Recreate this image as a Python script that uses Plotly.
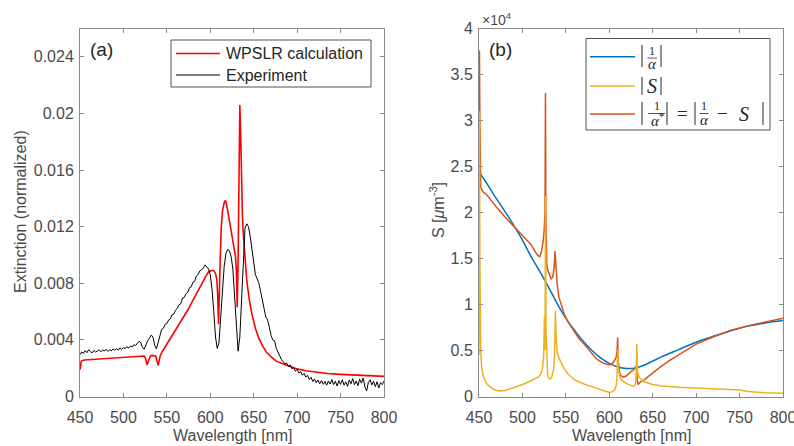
import plotly.graph_objects as go

W, H = 794, 446

# ---------------- Panel (a) data ----------------
calc_wl = [450, 450.5, 451.5, 455, 470, 490, 510, 520, 524, 525.5, 526.5, 527.2, 528.2, 529.5, 531, 533, 535,
           537, 538, 539, 540, 541, 542.5, 545, 550, 555, 560, 565, 570, 575, 580, 585, 590, 595, 598, 601,
           604, 606, 607.5, 608.5, 609.5, 610.5, 611.5, 612.5, 614, 616, 617.5, 619, 621, 623, 625, 627, 629,
           630, 631, 632, 633, 634, 635, 636, 637, 638, 640, 642, 645, 648, 652, 656, 660, 665, 670, 676, 684,
           692, 700, 710, 720, 735, 750, 765, 780, 800]
calc_ext = [0.0019, 0.0021, 0.0025, 0.00258, 0.00265, 0.00272, 0.0028, 0.00288, 0.00286, 0.0027, 0.0024,
            0.00222, 0.0024, 0.0027, 0.00285, 0.0029, 0.0029, 0.00286, 0.0027, 0.0024, 0.0022, 0.0025, 0.0029,
            0.0032, 0.0037, 0.0042, 0.0047, 0.0052, 0.0057, 0.0062, 0.0068, 0.0074, 0.0080, 0.0085, 0.0088,
            0.0089, 0.0089, 0.0087, 0.0083, 0.0072, 0.0051, 0.0068, 0.0098, 0.0118, 0.0131, 0.0137, 0.01385,
            0.0135, 0.0128, 0.0120, 0.0112, 0.0106, 0.0099, 0.0090, 0.0063, 0.0095, 0.0175, 0.0206, 0.0185,
            0.0150, 0.0128, 0.0115, 0.0098, 0.0082, 0.0068, 0.0058, 0.0048, 0.0041, 0.0036, 0.0031, 0.0028,
            0.0025, 0.0023, 0.0021, 0.00195, 0.00182, 0.00172, 0.00162, 0.00156, 0.00152, 0.00148, 0.00142]

exp_wl = list(range(450, 801, 2))
exp_ext = [
    0.00295, 0.00315, 0.00305, 0.00325, 0.00310, 0.00330, 0.00318, 0.00308, 0.00326, 0.00314,  # 450-468
    0.00322, 0.00330, 0.00316, 0.00328, 0.00320, 0.00334, 0.00318, 0.00330, 0.00322, 0.00336,  # 470-488
    0.00326, 0.00338, 0.00328, 0.00344, 0.00332, 0.00346, 0.00338, 0.00352, 0.00342, 0.00356,  # 490-508
    0.00350, 0.00366, 0.00360, 0.00378, 0.00390, 0.00380, 0.00345, 0.00335, 0.00372, 0.00395,  # 510-528
    0.00412, 0.00434, 0.00420, 0.00362, 0.00336, 0.00384, 0.00422, 0.00474, 0.00482, 0.00510,  # 530-548
    0.00515, 0.00540, 0.00548, 0.00578, 0.00582, 0.00610, 0.00622, 0.00648, 0.00655, 0.00696,  # 550-568
    0.00700, 0.00726, 0.00736, 0.00768, 0.00774, 0.00808, 0.00814, 0.00852, 0.00862, 0.00888,  # 570-588
    0.00895, 0.00908, 0.00930, 0.00915, 0.00900, 0.00860, 0.00760, 0.00600, 0.00420, 0.00340,  # 590-608
    0.00380, 0.00560, 0.00780, 0.00920, 0.01010, 0.01040, 0.01030, 0.00990, 0.00900, 0.00700,  # 610-628
    0.00440, 0.00320, 0.00420, 0.00700, 0.01000, 0.01190, 0.01220, 0.01200, 0.01130, 0.01040,  # 630-648
    0.00950, 0.00860, 0.00830, 0.00800, 0.00740, 0.00690, 0.00620, 0.00560, 0.00540, 0.00490,  # 650-668
    0.00430, 0.00400, 0.00395, 0.00340, 0.00310, 0.00290, 0.00260, 0.00245, 0.00230, 0.00236,  # 670-688
    0.00212, 0.00222, 0.00196, 0.00204, 0.00178, 0.00192, 0.00166, 0.00176, 0.00150, 0.00164,  # 690-708
    0.00138, 0.00150, 0.00120, 0.00136, 0.00106, 0.00124, 0.00098, 0.00116, 0.00090, 0.00112,  # 710-728
    0.00086, 0.00106, 0.00080, 0.00110, 0.00088, 0.00120, 0.00084, 0.00108, 0.00074, 0.00112,  # 730-748
    0.00086, 0.00118, 0.00080, 0.00104, 0.00072, 0.00116, 0.00090, 0.00126, 0.00084, 0.00110,  # 750-768
    0.00076, 0.00122, 0.00094, 0.00130, 0.00070, 0.00040, 0.00100, 0.00118, 0.00082, 0.00108,  # 770-788
    0.00070, 0.00104, 0.00060, 0.00098, 0.00084, 0.00110,                                      # 790-800
]

# ---------------- Panel (b) data (units of 1e4 um^-3) ----------------
inv_alpha_wl = [450, 460, 470, 480, 490, 500, 510, 520, 530, 540, 550, 560, 570, 580, 590, 600, 610, 620,
                630, 640, 650, 660, 680, 700, 720, 740, 760, 780, 800]
inv_alpha = [2.44, 2.30, 2.15, 2.01, 1.86, 1.70, 1.52, 1.36, 1.19, 1.01, 0.85, 0.72, 0.60, 0.50, 0.42, 0.36,
             0.32, 0.305, 0.31, 0.34, 0.385, 0.43, 0.51, 0.59, 0.655, 0.715, 0.765, 0.80, 0.825]

s_wl = [450, 450.5, 451, 452, 453, 455, 458, 462, 466, 470, 475, 480, 485, 490, 495, 500, 505, 510, 515,
        518, 521, 523, 524.5, 525.3, 526, 526.6, 527.2, 528, 529, 530, 532, 534, 536, 537, 538, 539, 540,
        542, 545, 548, 552, 556, 560, 565, 570, 575, 580, 585, 590, 595, 600, 603, 606, 608, 609, 609.7,
        610.5, 612, 615, 620, 625, 628, 630, 631, 631.7, 632.5, 634, 637, 640, 650, 660, 680, 700, 720,
        740, 750, 760, 780, 800]
s_abs = [0.45, 3.10, 1.5, 0.5, 0.32, 0.22, 0.15, 0.11, 0.08, 0.065, 0.06, 0.065, 0.08, 0.095, 0.11, 0.13,
         0.15, 0.17, 0.19, 0.21, 0.24, 0.30, 0.45, 0.87, 0.5, 2.18, 0.7, 0.35, 0.24, 0.20, 0.19, 0.22, 0.30,
         0.45, 0.93, 0.60, 0.48, 0.42, 0.36, 0.30, 0.25, 0.21, 0.18, 0.16, 0.14, 0.12, 0.11, 0.09, 0.075,
         0.06, 0.045, 0.05, 0.07, 0.12, 0.22, 0.51, 0.30, 0.22, 0.17, 0.14, 0.12, 0.11, 0.13, 0.25, 0.57,
         0.28, 0.21, 0.18, 0.16, 0.13, 0.115, 0.10, 0.09, 0.085, 0.075, 0.07, 0.055, 0.04, 0.035]

star_wl = [450, 450.5, 451, 452, 453, 455, 458, 462, 466, 470, 475, 480, 485, 490, 495, 500, 505, 510, 515,
           518, 520, 522, 524, 525, 526, 526.5, 527, 528, 529, 531, 533, 535, 536.5, 537.5, 538.5, 540, 542,
           545, 548, 552, 556, 560, 565, 570, 575, 580, 585, 590, 595, 600, 603, 606, 608, 609, 609.6, 610.3,
           611.5, 613, 616, 619, 622, 625, 628, 630, 631, 632, 633, 634, 636, 640, 645, 650, 660, 670, 680,
           690, 700, 720, 740, 760, 780, 800]
inv_alpha_star = [2.92, 3.76, 3.0, 2.28, 2.25, 2.22, 2.20, 2.16, 2.11, 2.06, 2.0, 1.95, 1.90, 1.85, 1.80,
                  1.76, 1.71, 1.65, 1.57, 1.53, 1.52, 1.58, 1.70, 1.80, 2.0, 3.30, 2.0, 1.45, 1.38, 1.33, 1.28,
                  1.30, 1.40, 1.58, 1.45, 1.22, 1.08, 0.98, 0.90, 0.82, 0.76, 0.70, 0.63, 0.58, 0.52, 0.46,
                  0.41, 0.38, 0.355, 0.345, 0.35, 0.39, 0.43, 0.50, 0.64, 0.40, 0.28, 0.23, 0.21, 0.22, 0.25,
                  0.27, 0.29, 0.31, 0.33, 0.20, 0.13, 0.14, 0.16, 0.18, 0.22, 0.255, 0.33, 0.395, 0.455,
                  0.515, 0.57, 0.65, 0.72, 0.77, 0.81, 0.85]

x_ticks = [450, 500, 550, 600, 650, 700, 750, 800]
ya_ticks = [0, 0.004, 0.008, 0.012, 0.016, 0.02, 0.024]
ya_labels = ["0", "0.004", "0.008", "0.012", "0.016", "0.02", "0.024"]
yb_ticks = [0, 0.5, 1, 1.5, 2, 2.5, 3, 3.5, 4]
yb_labels = ["0", "0.5", "1", "1.5", "2", "2.5", "3", "3.5", "4"]

# ---------------- styling ----------------
SANS = "Liberation Sans, Arial, sans-serif"
SERIF = "Liberation Serif, Times New Roman, serif"
TXT = "#4a4a4a"
AXC = "#8a8a8a"
DARK = "#262626"
BLUE, YELLOW, ORANGE = "#0072BD", "#EDB120", "#D95319"


def px(x):
    return x / W


def py(y):
    return 1 - y / H


fig = go.Figure()
fig.add_trace(go.Scatter(x=calc_wl, y=calc_ext, mode="lines", line=dict(color="#ff0000", width=1.6),
                         xaxis="x", yaxis="y", showlegend=False))
fig.add_trace(go.Scatter(x=exp_wl, y=exp_ext, mode="lines", line=dict(color="#000000", width=1),
                         xaxis="x", yaxis="y", showlegend=False))
fig.add_trace(go.Scatter(x=inv_alpha_wl, y=inv_alpha, mode="lines", line=dict(color=BLUE, width=1.5, shape="spline"),
                         xaxis="x2", yaxis="y2", showlegend=False))
fig.add_trace(go.Scatter(x=star_wl, y=inv_alpha_star, mode="lines", line=dict(color=ORANGE, width=1.5),
                         xaxis="x2", yaxis="y2", showlegend=False))
fig.add_trace(go.Scatter(x=s_wl, y=s_abs, mode="lines", line=dict(color=YELLOW, width=1.5),
                         xaxis="x2", yaxis="y2", showlegend=False))

ydom = [(H - 396.5) / H, (H - 28.5) / H]
axis_common = dict(showline=True, linecolor=AXC, linewidth=1, mirror="ticks", ticks="inside", ticklen=4,
                   tickcolor=AXC, showgrid=False, zeroline=False, automargin=False,
                   ticklabeloverflow="allow", tickfont=dict(family=SANS, size=16, color=TXT))

annotations = []
shapes = []


def txt(x, y, s, size=16, family=SANS, xanchor="center", color=DARK, angle=0):
    annotations.append(dict(x=px(x), y=py(y), xref="paper", yref="paper", text=s, showarrow=False,
                            xanchor=xanchor, yanchor="middle", textangle=angle,
                            font=dict(family=family, size=size, color=color)))


def seg(x0, y0, x1, y1, color=DARK, width=1):
    shapes.append(dict(type="line", xref="paper", yref="paper", x0=px(x0), y0=py(y0), x1=px(x1), y1=py(y1),
                       line=dict(color=color, width=width)))


def box(x0, y0, x1, y1):
    shapes.append(dict(type="rect", xref="paper", yref="paper", x0=px(x0), y0=py(y0), x1=px(x1), y1=py(y1),
                       fillcolor="white", line=dict(color=DARK, width=0.8)))


# axis titles
txt(232, 435, "Wavelength [nm]", color=TXT)
txt(631, 435, "Wavelength [nm]", color=TXT)
txt(20, 212, "Extinction (normalized)", color=TXT, angle=-90)
txt(437, 210, "S [<i>μ</i>m<sup>-3</sup>]", color=TXT, angle=-90)
txt(480, 19, "×10<sup>4</sup>", size=14, color=TXT, xanchor="left")

# panel labels
txt(88, 50, "(a)", size=19, xanchor="left")
txt(487, 50, "(b)", size=19, xanchor="left")

# legend (a)
box(171, 40, 371, 87)
seg(176, 53.5, 220, 53.5, color="#ff0000", width=1.6)
seg(176, 75, 220, 75, color="#000000", width=1)
txt(223.5, 53.5, "WPSLR calculation", xanchor="left")
txt(223.5, 75, "Experiment", xanchor="left")

# legend (b)
box(586, 38.5, 770, 130)
seg(590, 56.7, 635, 56.7, color=BLUE, width=1.5)
seg(590, 86, 635, 86, color=YELLOW, width=1.5)
seg(590, 114, 635, 114, color=ORANGE, width=1.5)
# row 1: |1/alpha|
seg(642, 45, 642, 67)
seg(661, 45, 661, 67)
txt(652, 51, "1", size=12, family=SERIF)
seg(647.5, 58, 657, 58, width=0.8)
txt(652, 63.5, "<i>α</i>", size=15, family=SERIF)
# row 2: |S|
seg(642, 77, 642, 95)
seg(661, 77, 661, 95)
txt(651.5, 86, "<i>S</i>", size=20, family=SERIF)
# row 3: |1/alpha*| = |1/alpha - S|
for xb in (642, 667, 695, 763):
    seg(xb, 102, xb, 125)
txt(656.5, 106, "1", size=12, family=SERIF)
seg(648, 113.5, 665, 113.5, width=0.8)
txt(657, 120.5, "<i>α</i><sup>*</sup>", size=15, family=SERIF)
txt(682.5, 113.5, "=", size=19, family=SERIF)
txt(704, 106, "1", size=12, family=SERIF)
seg(699.5, 113.5, 708.5, 113.5, width=0.8)
txt(704, 120.5, "<i>α</i>", size=15, family=SERIF)
txt(722, 113.5, "−", size=19, family=SERIF)
txt(744, 113.5, "<i>S</i>", size=20, family=SERIF)

fig.update_layout(
    template="none",
    width=W, height=H, margin=dict(l=0, r=0, t=0, b=0, autoexpand=False),
    paper_bgcolor="white", plot_bgcolor="white", showlegend=False,
    xaxis=dict(domain=[80 / W, 384 / W], range=[450, 800], tickvals=x_ticks, anchor="y",
               ticklabelstandoff=6, **axis_common),
    yaxis=dict(domain=ydom, range=[0, 0.026], tickvals=ya_ticks, ticktext=ya_labels, anchor="x",
               ticklabelstandoff=2, **axis_common),
    xaxis2=dict(domain=[479 / W, 783 / W], range=[450, 800], tickvals=x_ticks, anchor="y2",
                ticklabelstandoff=6, **axis_common),
    yaxis2=dict(domain=ydom, range=[0, 4], tickvals=yb_ticks, ticktext=yb_labels, anchor="x2",
                ticklabelstandoff=2, **axis_common),
    annotations=annotations, shapes=shapes,
)

fig.write_html("out.html", config={"displayModeBar": False},
               post_script="document.body.style.margin='0px';document.body.style.overflow='hidden';")
